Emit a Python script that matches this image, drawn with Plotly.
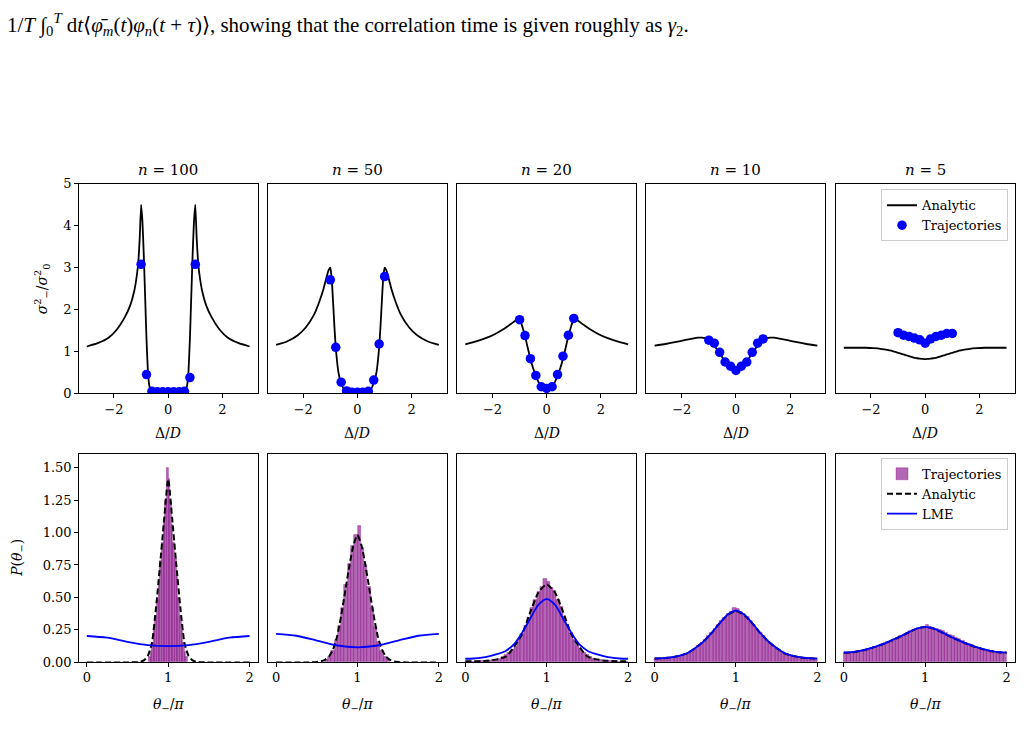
import plotly.graph_objects as go

W, H = 1023, 753
SERIF = "DejaVu Serif"
DOC_FONT = "Liberation Serif"

# ---------------- data ----------------
N_LABELS = ["100", "50", "20", "10", "5"]

# top row: detuning grid for analytic variance curves
DELTA_GRID = [-3.0, -2.6, -2.2, -1.9, -1.6, -1.4, -1.25, -1.15, -1.1, -1.05, -1.0, -0.95, -0.9, -0.85,
              -0.8, -0.75, -0.7, -0.65, -0.6, -0.5, -0.4, -0.3, -0.2, -0.1, 0.0, 0.1, 0.2, 0.3, 0.4,
              0.5, 0.6, 0.65, 0.7, 0.75, 0.8, 0.85, 0.9, 0.95, 1.0, 1.05, 1.1, 1.15, 1.25, 1.4, 1.6,
              1.9, 2.2, 2.6, 3.0]

VAR_N100 = [1.12, 1.2, 1.33, 1.52, 1.82, 2.1, 2.45, 2.85, 3.15, 3.7, 4.5, 4.1, 3.3, 2.3, 1.3, 0.55,
            0.2, 0.08, 0.05, 0.04, 0.035, 0.03, 0.03, 0.03, 0.03, 0.03, 0.03, 0.03, 0.035, 0.04,
            0.05, 0.08, 0.2, 0.55, 1.3, 2.3, 3.3, 4.1, 4.5, 3.7, 3.15, 2.85, 2.45, 2.1, 1.82, 1.52,
            1.33, 1.2, 1.12]
VAR_N50 = [1.16, 1.24, 1.39, 1.58, 1.88, 2.2, 2.5, 2.75, 2.87, 2.96, 3.0, 2.75, 2.2, 1.6, 1.1, 0.75,
           0.5, 0.35, 0.25, 0.1, 0.04, 0.03, 0.03, 0.03, 0.03, 0.03, 0.03, 0.03, 0.04, 0.1, 0.25,
           0.35, 0.5, 0.75, 1.1, 1.6, 2.2, 2.75, 3.0, 2.96, 2.87, 2.75, 2.5, 2.2, 1.88, 1.58, 1.39,
           1.24, 1.16]
VAR_N20 = [1.17, 1.24, 1.33, 1.42, 1.53, 1.62, 1.69, 1.74, 1.76, 1.77, 1.77, 1.7, 1.6, 1.49, 1.37,
           1.23, 1.09, 0.96, 0.83, 0.6, 0.42, 0.27, 0.16, 0.1, 0.08, 0.1, 0.16, 0.27, 0.42, 0.6,
           0.83, 0.96, 1.09, 1.23, 1.37, 1.49, 1.6, 1.7, 1.77, 1.77, 1.76, 1.74, 1.69, 1.62, 1.53,
           1.42, 1.33, 1.24, 1.17]
VAR_N10 = [1.14, 1.18, 1.23, 1.27, 1.31, 1.33, 1.33, 1.32, 1.31, 1.29, 1.27, 1.25, 1.22, 1.19, 1.15,
           1.1, 1.05, 1.0, 0.96, 0.86, 0.77, 0.68, 0.62, 0.57, 0.54, 0.57, 0.62, 0.68, 0.77, 0.86,
           0.96, 1.0, 1.05, 1.1, 1.15, 1.19, 1.22, 1.25, 1.27, 1.29, 1.31, 1.32, 1.33, 1.33, 1.31,
           1.27, 1.23, 1.18, 1.14]
VAR_N5 = [1.09, 1.09, 1.09, 1.08, 1.06, 1.04, 1.02, 1.0, 0.99, 0.98, 0.97, 0.96, 0.95, 0.94, 0.93,
          0.92, 0.91, 0.9, 0.89, 0.87, 0.85, 0.84, 0.83, 0.825, 0.82, 0.825, 0.83, 0.84, 0.85,
          0.87, 0.89, 0.9, 0.91, 0.92, 0.93, 0.94, 0.95, 0.96, 0.97, 0.98, 0.99, 1.0, 1.02, 1.04,
          1.06, 1.08, 1.09, 1.09, 1.09]

# top row: trajectory points
DELTA_PTS = [-1.0, -0.8, -0.6, -0.4, -0.2, 0.0, 0.2, 0.4, 0.6, 0.8, 1.0]
TRAJ_N100 = [3.08, 0.45, 0.05, 0.04, 0.04, 0.04, 0.04, 0.04, 0.05, 0.38, 3.08]
TRAJ_N50 = [2.71, 1.10, 0.27, 0.06, 0.03, 0.03, 0.03, 0.05, 0.32, 1.18, 2.79]
TRAJ_N20 = [1.76, 1.38, 0.83, 0.43, 0.16, 0.12, 0.16, 0.45, 0.89, 1.39, 1.79]
TRAJ_N10 = [1.27, 1.20, 0.98, 0.75, 0.65, 0.55, 0.65, 0.75, 0.98, 1.20, 1.30]
TRAJ_N5 = [1.45, 1.39, 1.36, 1.32, 1.28, 1.20, 1.30, 1.36, 1.39, 1.43, 1.43]
TRAJ_ERR = [0.06, 0.05, 0.03, 0.03, 0.03, 0.03, 0.03, 0.03, 0.03, 0.05, 0.06]

# bottom row: analytic distributions
THETA_A100 = [0.0, 0.5, 0.65, 0.7, 0.75, 0.8, 0.85, 0.9, 0.95, 1.0, 1.05, 1.1, 1.15, 1.2, 1.25, 1.3,
              1.35, 1.5, 2.0]
PA_N100 = [0.0, 0.0, 0.003, 0.015, 0.05, 0.15, 0.42, 0.75, 1.1, 1.41, 1.1, 0.75, 0.42, 0.15, 0.05,
           0.015, 0.003, 0.0, 0.0]
THETA_A50 = [0.0, 0.4, 0.5, 0.55, 0.6, 0.65, 0.7, 0.75, 0.8, 0.85, 0.9, 0.95, 1.0, 1.05, 1.1, 1.15,
             1.2, 1.25, 1.3, 1.35, 1.4, 1.45, 1.5, 1.6, 2.0]
PA_N50 = [0.0, 0.0, 0.003, 0.008, 0.02, 0.045, 0.1, 0.2, 0.36, 0.55, 0.74, 0.9, 0.98, 0.9, 0.74,
          0.55, 0.36, 0.2, 0.1, 0.045, 0.02, 0.008, 0.003, 0.0, 0.0]
THETA_GRID = [0.0, 0.1, 0.2, 0.3, 0.4, 0.5, 0.6, 0.7, 0.8, 0.9, 1.0, 1.1, 1.2, 1.3, 1.4, 1.5, 1.6,
              1.7, 1.8, 1.9, 2.0]
PA_N20 = [0.008, 0.008, 0.01, 0.015, 0.025, 0.045, 0.12, 0.22, 0.39, 0.54, 0.6, 0.54, 0.39, 0.22,
          0.12, 0.045, 0.025, 0.015, 0.01, 0.008, 0.008]
PA_N10 = [0.03, 0.032, 0.038, 0.05, 0.07, 0.11, 0.16, 0.225, 0.3, 0.365, 0.395, 0.365, 0.3, 0.225,
          0.16, 0.11, 0.07, 0.05, 0.038, 0.032, 0.03]
PA_N5 = [0.075, 0.078, 0.088, 0.103, 0.122, 0.145, 0.172, 0.2, 0.232, 0.26, 0.272, 0.26, 0.232,
         0.2, 0.172, 0.145, 0.122, 0.103, 0.088, 0.078, 0.075]

# bottom row: LME distributions
THETA_L = [0.0, 0.25, 0.5, 0.75, 1.0, 1.25, 1.5, 1.75, 2.0]
LME_N100 = [0.203, 0.19, 0.158, 0.133, 0.125, 0.133, 0.158, 0.19, 0.203]
LME_N50 = [0.22, 0.205, 0.168, 0.13, 0.116, 0.13, 0.168, 0.205, 0.22]
LME_N20 = [0.028, 0.03, 0.036, 0.048, 0.065, 0.09, 0.14, 0.23, 0.34, 0.445, 0.487, 0.445, 0.34,
           0.23, 0.14, 0.09, 0.065, 0.048, 0.036, 0.03, 0.028]
LME_N10 = [0.03, 0.032, 0.038, 0.05, 0.07, 0.11, 0.16, 0.226, 0.302, 0.368, 0.398, 0.368, 0.302,
           0.226, 0.16, 0.11, 0.07, 0.05, 0.038, 0.032, 0.03]
LME_N5 = [0.076, 0.079, 0.089, 0.104, 0.123, 0.146, 0.173, 0.201, 0.233, 0.261, 0.273, 0.261,
          0.233, 0.201, 0.173, 0.146, 0.123, 0.104, 0.089, 0.079, 0.076]

# bottom row: trajectory histograms (bin centres, heights)
BIN_N100 = [0.77, 0.79, 0.81, 0.83, 0.85, 0.87, 0.89, 0.91, 0.93, 0.95, 0.97, 0.99, 1.01, 1.03,
            1.05, 1.07, 1.09, 1.11, 1.13, 1.15, 1.17, 1.19, 1.21, 1.23]
HIST_N100 = [0.04, 0.08, 0.15, 0.24, 0.36, 0.48, 0.62, 0.78, 0.92, 1.08, 1.25, 1.5, 1.41, 1.24, 1.06,
             0.92, 0.8, 0.66, 0.5, 0.36, 0.24, 0.15, 0.08, 0.04]
BIN_N50 = [0.62, 0.66, 0.70, 0.74, 0.78, 0.82, 0.86, 0.90, 0.94, 0.98, 1.02, 1.06, 1.10, 1.14, 1.18,
           1.22, 1.26, 1.30, 1.34, 1.38]
HIST_N50 = [0.02, 0.04, 0.09, 0.17, 0.28, 0.42, 0.6, 0.76, 0.9, 0.98, 1.05, 0.88, 0.75, 0.58, 0.42,
            0.27, 0.16, 0.09, 0.04, 0.02]
BIN_FULL = [0.02, 0.06, 0.10, 0.14, 0.18, 0.22, 0.26, 0.30, 0.34, 0.38, 0.42, 0.46, 0.50, 0.54,
            0.58, 0.62, 0.66, 0.70, 0.74, 0.78, 0.82, 0.86, 0.90, 0.94, 0.98, 1.02, 1.06, 1.10,
            1.14, 1.18, 1.22, 1.26, 1.30, 1.34, 1.38, 1.42, 1.46, 1.50, 1.54, 1.58, 1.62, 1.66,
            1.70, 1.74, 1.78, 1.82, 1.86, 1.90, 1.94, 1.98]
HIST_N20 = [0.005, 0.005, 0.006, 0.007, 0.008, 0.01, 0.012, 0.015, 0.018, 0.022, 0.03, 0.04, 0.055,
            0.07, 0.095, 0.12, 0.17, 0.22, 0.28, 0.34, 0.42, 0.48, 0.54, 0.58, 0.64, 0.62, 0.57,
            0.55, 0.48, 0.43, 0.35, 0.29, 0.23, 0.17, 0.13, 0.1, 0.075, 0.055, 0.04, 0.03, 0.022,
            0.017, 0.013, 0.01, 0.008, 0.007, 0.006, 0.005, 0.005, 0.005]
HIST_N10 = [0.03, 0.03, 0.033, 0.035, 0.036, 0.04, 0.045, 0.05, 0.056, 0.065, 0.075, 0.09, 0.105,
            0.125, 0.15, 0.17, 0.2, 0.225, 0.26, 0.29, 0.32, 0.345, 0.37, 0.385, 0.42, 0.41, 0.39,
            0.37, 0.35, 0.32, 0.29, 0.26, 0.23, 0.2, 0.175, 0.15, 0.125, 0.105, 0.09, 0.075,
            0.065, 0.055, 0.05, 0.045, 0.04, 0.036, 0.034, 0.032, 0.03, 0.03]
HIST_N5 = [0.072, 0.075, 0.078, 0.08, 0.085, 0.09, 0.097, 0.103, 0.11, 0.118, 0.127, 0.135, 0.145,
           0.156, 0.166, 0.178, 0.19, 0.2, 0.215, 0.228, 0.24, 0.25, 0.26, 0.266, 0.27, 0.29,
           0.27, 0.265, 0.258, 0.25, 0.24, 0.227, 0.215, 0.2, 0.19, 0.177, 0.165, 0.153, 0.142,
           0.132, 0.122, 0.113, 0.105, 0.097, 0.09, 0.085, 0.08, 0.077, 0.075, 0.072]

TOP_Y_TICKS = [0, 1, 2, 3, 4, 5]
BOT_Y_TICKS = [0.0, 0.25, 0.5, 0.75, 1.0, 1.25, 1.5]
BOT_Y_TEXT = ["0.00", "0.25", "0.50", "0.75", "1.00", "1.25", "1.50"]

# ---------------- assemble tables ----------------
VAR_ALL = [VAR_N100, VAR_N50, VAR_N20, VAR_N10, VAR_N5]
TRAJ_ALL = [TRAJ_N100, TRAJ_N50, TRAJ_N20, TRAJ_N10, TRAJ_N5]
PA_X = [THETA_A100, THETA_A50, THETA_GRID, THETA_GRID, THETA_GRID]
PA_Y = [PA_N100, PA_N50, PA_N20, PA_N10, PA_N5]
LME_X = [THETA_L, THETA_L, THETA_GRID, THETA_GRID, THETA_GRID]
LME_Y = [LME_N100, LME_N50, LME_N20, LME_N10, LME_N5]
BINS = [BIN_N100, BIN_N50, BIN_FULL, BIN_FULL, BIN_FULL]
BIN_W = [0.02, 0.04, 0.04, 0.04, 0.04]
HISTS = [HIST_N100, HIST_N50, HIST_N20, HIST_N10, HIST_N5]

# ---------------- layout geometry (pixels) ----------------
COL_L = [78.7 + 189.25 * i for i in range(5)]
COL_W = 179.0
TOP_PX = (180.5, 394.3)
BOT_PX = (456.0, 668.7)


def xd(px):
    return px / W


def yd(px):
    return 1 - px / H


fig = go.Figure()
layout = {}


def sfx(k):
    return "" if k == 1 else str(k)


axis_common = dict(showline=True, mirror=True, linecolor="black", linewidth=1,
                   ticks="outside", ticklen=3.5, tickwidth=0.8, tickcolor="black",
                   showgrid=False, zeroline=False,
                   tickfont=dict(family=SERIF, size=13, color="black"))

for i in range(5):
    kt, kb = i + 1, i + 6
    dom_x = [xd(COL_L[i]), xd(COL_L[i] + COL_W)]
    first = (i == 0)
    # top panel
    layout["xaxis" + sfx(kt)] = dict(axis_common, domain=dom_x, anchor="y" + sfx(kt),
                                     range=[-3.3, 3.3], tickvals=[-2, 0, 2],
                                     ticktext=["\u22122", "0", "2"])
    layout["yaxis" + sfx(kt)] = dict(axis_common, domain=[yd(TOP_PX[1]), yd(TOP_PX[0])],
                                     anchor="x" + sfx(kt), range=[0, 5], tickvals=TOP_Y_TICKS,
                                     showticklabels=first, ticks="outside" if first else "")
    # bottom panel
    layout["xaxis" + sfx(kb)] = dict(axis_common, domain=dom_x, anchor="y" + sfx(kb),
                                     range=[-0.1, 2.1], tickvals=[0, 1, 2],
                                     ticktext=["0", "1", "2"])
    layout["yaxis" + sfx(kb)] = dict(axis_common, domain=[yd(BOT_PX[1]), yd(BOT_PX[0])],
                                     anchor="x" + sfx(kb), range=[0, 1.605],
                                     tickvals=BOT_Y_TICKS, ticktext=BOT_Y_TEXT,
                                     showticklabels=first, ticks="outside" if first else "")

    show = (i == 4)
    # top: analytic line
    fig.add_trace(go.Scatter(x=DELTA_GRID, y=VAR_ALL[i], mode="lines",
                             line=dict(color="black", width=1.8, shape="spline", smoothing=0.4),
                             name="Analytic", showlegend=show, legend="legend",
                             xaxis="x" + sfx(kt), yaxis="y" + sfx(kt)))
    # top: trajectory points with error bars
    fig.add_trace(go.Scatter(x=DELTA_PTS, y=TRAJ_ALL[i], mode="markers",
                             marker=dict(color="blue", size=9.5),
                             error_y=dict(type="data", array=TRAJ_ERR, color="blue",
                                          thickness=1.5, width=3.5),
                             name="Trajectories", showlegend=show, legend="legend",
                             xaxis="x" + sfx(kt), yaxis="y" + sfx(kt)))
    # bottom: histogram
    fig.add_trace(go.Bar(x=BINS[i], y=HISTS[i], width=BIN_W[i],
                         marker=dict(color="rgba(128,0,128,0.6)",
                                     line=dict(color="rgba(128,0,128,0.55)", width=0.6)),
                         name="Trajectories", showlegend=show, legend="legend2",
                         xaxis="x" + sfx(kb), yaxis="y" + sfx(kb)))
    # bottom: analytic dashed
    fig.add_trace(go.Scatter(x=PA_X[i], y=PA_Y[i], mode="lines",
                             line=dict(color="black", width=2, dash="6px,3px", shape="spline",
                                       smoothing=0.6),
                             name="Analytic", showlegend=show, legend="legend2",
                             xaxis="x" + sfx(kb), yaxis="y" + sfx(kb)))
    # bottom: LME
    fig.add_trace(go.Scatter(x=LME_X[i], y=LME_Y[i], mode="lines",
                             line=dict(color="blue", width=1.8, shape="spline", smoothing=0.8),
                             name="LME", showlegend=show, legend="legend2",
                             xaxis="x" + sfx(kb), yaxis="y" + sfx(kb)))

# ---------------- annotations ----------------
ann = []
for i in range(5):
    cx = xd(COL_L[i] + COL_W / 2)
    ann.append(dict(text="<i>n</i> = " + N_LABELS[i], x=cx, y=yd(166), xref="paper",
                    yref="paper", showarrow=False, xanchor="center", yanchor="middle",
                    font=dict(family=SERIF, size=15, color="black")))
    ann.append(dict(text="Δ/<i>D</i>", x=cx, y=yd(435), xref="paper", yref="paper",
                    showarrow=False, xanchor="center", yanchor="middle",
                    font=dict(family=SERIF, size=14, color="black")))
    ann.append(dict(text="<i>θ</i><sub>−</sub>/<i>π</i>", x=cx, y=yd(712), xref="paper",
                    yref="paper", showarrow=False, xanchor="center", yanchor="middle",
                    font=dict(family=SERIF, size=14, color="black")))

ann.append(dict(text="<i>σ</i><sup>2</sup><sub>−</sub>/<i>σ</i><sup>2</sup><sub>0</sub>",
                x=xd(42), y=yd(288), xref="paper", yref="paper", showarrow=False,
                textangle=-90, xanchor="center", yanchor="middle",
                font=dict(family=SERIF, size=14, color="black")))
ann.append(dict(text="<i>P</i>(<i>θ</i><sub>−</sub>)", x=xd(18), y=yd(562), xref="paper",
                yref="paper", showarrow=False, textangle=-90, xanchor="center",
                yanchor="middle", font=dict(family=SERIF, size=14, color="black")))

ann.append(dict(text="1/<i>T</i> ∫<sub>0</sub><sup><i>T</i></sup> d<i>t</i>⟨<i>φ̄</i><sub><i>m</i></sub>"
                     "(<i>t</i>)<i>φ</i><sub><i>n</i></sub>(<i>t</i> + <i>τ</i>)⟩, showing that the "
                     "correlation time is given roughly as <i>γ</i><sub>2</sub>.",
                x=xd(5), y=yd(18), xref="paper", yref="paper", showarrow=False,
                xanchor="left", yanchor="middle",
                font=dict(family=DOC_FONT, size=21, color="black")))

legend_style = dict(bgcolor="rgba(255,255,255,0.8)", bordercolor="#cccccc", borderwidth=1,
                    font=dict(family=SERIF, size=13, color="black"), xanchor="right",
                    yanchor="top", tracegroupgap=0)

layout.update(dict(
    width=W, height=H, margin=dict(l=0, r=0, t=0, b=0),
    paper_bgcolor="white", plot_bgcolor="white", showlegend=True,
    bargap=0, barmode="overlay",
    legend=dict(legend_style, x=xd(1008), y=yd(186)),
    legend2=dict(legend_style, x=xd(1008), y=yd(460)),
    annotations=ann,
))
fig.update_layout(**layout)
fig.write_html("out.html")
